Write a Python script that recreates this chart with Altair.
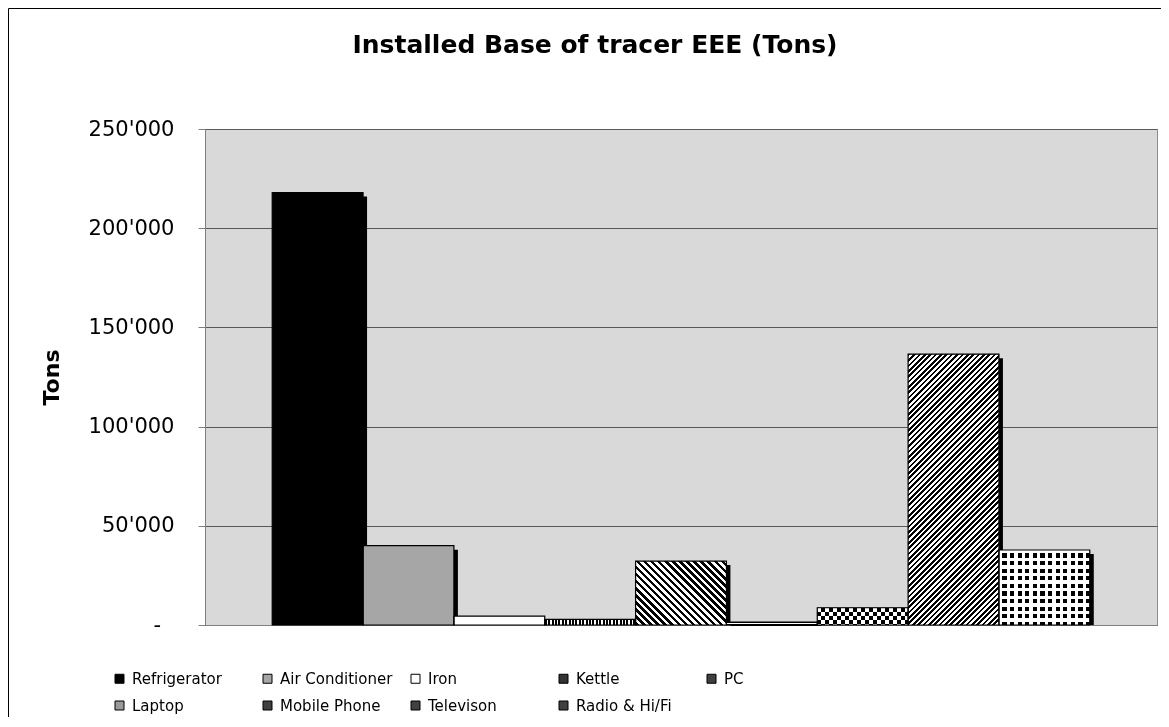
import math
import altair as alt
import pandas as pd

# ---------------- data ----------------
categories = ["Refrigerator", "Air Conditioner", "Iron", "Kettle", "PC",
              "Laptop", "Mobile Phone", "Televison", "Radio & Hi/Fi"]
tons = [218000, 40000, 4500, 2800, 32200, 1500, 8700, 136500, 37800]
y_ticks = [0, 50000, 100000, 150000, 200000, 250000]
legend_fill = ["#000000", "#a6a6a6", "#ffffff", "#333333", "#404040",
               "#999999", "#404040", "#404040", "#404040"]

df = pd.DataFrame({"item": categories, "tons": tons})

# ---------------- layout ----------------
W, H = 952, 496
PO = 0.74
YMAX = 250000
step = W / (len(categories) + 2 * PO)


def bar_h(v):
    return v / YMAX * H


def stripe_stops(length, period, duty, on, off):
    stops = []
    k = 0
    while k * period < length:
        a = k * period
        b = a + duty * period
        c = (k + 1) * period
        for p0, p1, col in ((a, b, on), (b, c, off)):
            q0 = min(p0, length) / length
            q1 = min(p1, length) / length
            if q1 > q0:
                stops.append({"offset": round(q0, 6), "color": col})
                stops.append({"offset": round(q1, 6), "color": col})
        k += 1
    return stops


def grad(stops, x1, y1, x2, y2):
    return {"gradient": "linear", "x1": x1, "y1": y1, "x2": x2, "y2": y2,
            "stops": stops}


def vertical_stripes(w, period, duty, on, off):
    return grad(stripe_stops(w, period, duty, on, off), 0, 0, 1, 0)


def horizontal_stripes(h, period, duty, on, off):
    return grad(stripe_stops(h, period, duty, on, off), 0, 0, 0, 1)


def diag_fwd(w, h, period, duty, on, off):  # "/" lines
    a = (w + h) / (w * w + h * h)
    L = (w + h) / math.sqrt(2)
    return grad(stripe_stops(L, period, duty, on, off), 0, 0, a * w, a * h)


def diag_back(w, h, period, duty, on, off):  # "\" lines
    a = (w + h) / (w * w + h * h)
    L = (w + h) / math.sqrt(2)
    return grad(stripe_stops(L, period, duty, on, off), 0, 1, a * w, 1 - a * h)


val = dict(zip(categories, tons))
BLK, WHT, CLR = "#000000", "#ffffff", "rgba(255,255,255,0)"

x_enc = alt.X("item:N", sort=categories,
              scale=alt.Scale(domain=categories, paddingInner=0, paddingOuter=PO),
              axis=alt.Axis(labels=False, ticks=False, title=None, grid=False,
                            domainColor="#7f7f7f", domainWidth=1))
y_enc = alt.Y("tons:Q",
              scale=alt.Scale(domain=[0, YMAX], nice=False, zero=True),
              axis=alt.Axis(values=y_ticks, title="Tons",
                            labelExpr="datum.value == 0 ? '-\u00a0\u00a0\u200b' : replace(format(datum.value, ','), ',', \"'\")",
                            labelFontSize=21, labelColor="black", labelPadding=24,
                            tickSize=7, tickColor="#7f7f7f", domainColor="#7f7f7f",
                            grid=True, gridColor="#595959", gridWidth=1,
                            titleFontSize=22, titleFontWeight="bold", titleColor="black",
                            titleAngle=270, titleX=-154, titleY=H / 2,
                            titleAlign="center", titleBaseline="middle"))

base = alt.Chart(df)

border = alt.Chart(alt.Data(values=[{}])).mark_rect(
    fillOpacity=0, stroke="black", strokeWidth=1
).encode(x=alt.value(-196.5), x2=alt.value(W + 40),
         y=alt.value(-120.5), y2=alt.value(H + 300))

shadow = base.mark_bar(color="black", xOffset=4, yOffset=4, y2Offset=0).encode(
    x=x_enc, y=y_enc, y2=alt.datum(0))

bars = base.mark_bar(strokeWidth=0).encode(
    x=x_enc, y=y_enc,
    fill=alt.Fill("item:N", sort=categories,
                  scale=alt.Scale(domain=categories, range=legend_fill),
                  legend=alt.Legend(orient="none", legendX=-93, legendY=542,
                                    direction="horizontal",
                                    columns=5, title=None, symbolType="square",
                                    symbolSize=81, symbolStrokeColor="black",
                                    symbolStrokeWidth=1, labelFontSize=15,
                                    labelColor="black", labelOffset=5,
                                    columnPadding=15, rowPadding=11,
                                    gridAlign="all", padding=0, labelLimit=300)),
)


def layer_for(name, fill, **kw):
    return base.transform_filter(alt.datum.item == name).mark_bar(
        fill=fill, strokeWidth=0, **kw).encode(x=x_enc, y=y_enc)


w = step
patterns = []
# Kettle: vertical stripes
patterns.append(layer_for("Kettle", vertical_stripes(w, 3.4, 0.6, BLK, WHT)))
# PC: back-diagonal stripes
patterns.append(layer_for("PC", diag_back(w, bar_h(val["PC"]), 5.0, 0.5, BLK, WHT)))
# Laptop: horizontal lines
patterns.append(layer_for("Laptop", horizontal_stripes(bar_h(val["Laptop"]), 2.0, 0.5, BLK, WHT)))
# Mobile phone: checkerboard via difference blend
patterns.append(layer_for("Mobile Phone", vertical_stripes(w, 8.0, 0.5, BLK, WHT)))
patterns.append(layer_for("Mobile Phone",
                          horizontal_stripes(bar_h(val["Mobile Phone"]), 8.0, 0.5, WHT, BLK),
                          blend="difference"))
# Television: forward-diagonal stripes
patterns.append(layer_for("Televison", diag_fwd(w, bar_h(val["Televison"]), 3.8, 0.5, BLK, WHT)))
# Radio & Hi/Fi: dot grid
patterns.append(layer_for("Radio & Hi/Fi", BLK))
patterns.append(layer_for("Radio & Hi/Fi", vertical_stripes(w, 7.6, 0.45, WHT, CLR)))
patterns.append(layer_for("Radio & Hi/Fi",
                          horizontal_stripes(bar_h(val["Radio & Hi/Fi"]), 7.6, 0.45, WHT, CLR)))

outline = base.mark_bar(fillOpacity=0, stroke="black", strokeWidth=1.2).encode(x=x_enc, y=y_enc)

chart = alt.layer(border, shadow, bars, *patterns, outline).properties(
    width=W, height=H,
    title=alt.TitleParams("Installed Base of tracer EEE (Tons)", fontSize=25,
                          fontWeight="bold", color="black", anchor="middle",
                          baseline="alphabetic", dx=-86, dy=70, offset=0),
    autosize=alt.AutoSizeParams(type="none"),
    padding={"left": 197, "top": 121, "right": 4, "bottom": 92},
).configure(font="DejaVu Sans").configure_view(
    fill="#d9d9d9", stroke="#8c8c8c", strokeWidth=1
).configure_axis(labelFont="DejaVu Sans", titleFont="DejaVu Sans").configure_legend(
    labelFont="DejaVu Sans"
).configure_title(font="DejaVu Sans")

chart.save("out.html", embed_options={"renderer": "svg", "actions": False})
